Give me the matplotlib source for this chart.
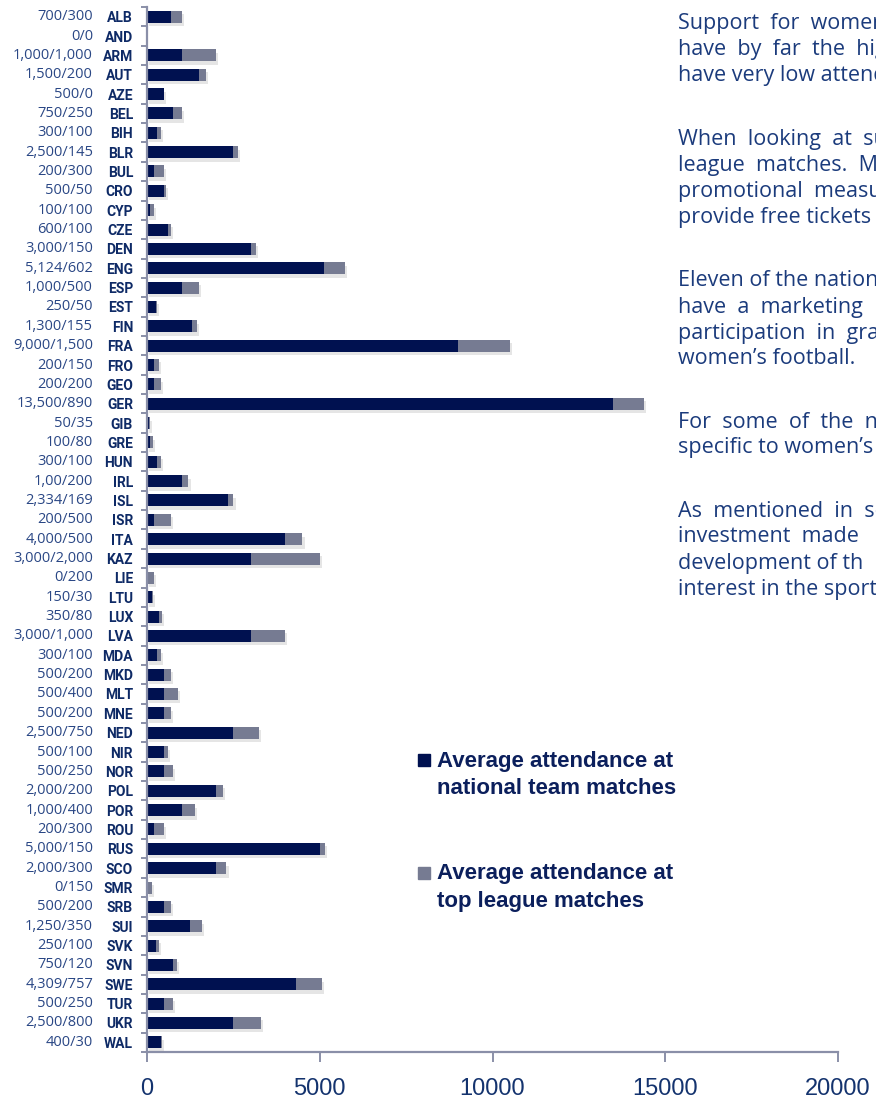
import matplotlib.pyplot as plt
import matplotlib.transforms as mtransforms
from matplotlib.patches import Rectangle
import matplotlib.patheffects as pe
import numpy as np

# Women's football attendance per association (national team / top league)
countries = ['ALB', 'AND', 'ARM', 'AUT', 'AZE', 'BEL', 'BIH', 'BLR', 'BUL', 'CRO',
             'CYP', 'CZE', 'DEN', 'ENG', 'ESP', 'EST', 'FIN', 'FRA', 'FRO', 'GEO',
             'GER', 'GIB', 'GRE', 'HUN', 'IRL', 'ISL', 'ISR', 'ITA', 'KAZ', 'LIE',
             'LTU', 'LUX', 'LVA', 'MDA', 'MKD', 'MLT', 'MNE', 'NED', 'NIR', 'NOR',
             'POL', 'POR', 'ROU', 'RUS', 'SCO', 'SMR', 'SRB', 'SUI', 'SVK', 'SVN',
             'SWE', 'TUR', 'UKR', 'WAL']
national = [700, 0, 1000, 1500, 500, 750, 300, 2500, 200, 500,
            100, 600, 3000, 5124, 1000, 250, 1300, 9000, 200, 200,
            13500, 50, 100, 300, 1000, 2334, 200, 4000, 3000, 0,
            150, 350, 3000, 300, 500, 500, 500, 2500, 500, 500,
            2000, 1000, 200, 5000, 2000, 0, 500, 1250, 250, 750,
            4309, 500, 2500, 400]
league = [300, 0, 1000, 200, 0, 250, 100, 145, 300, 50,
          100, 100, 150, 602, 500, 50, 155, 1500, 150, 200,
          890, 35, 80, 100, 200, 169, 500, 500, 2000, 200,
          30, 80, 1000, 100, 200, 400, 200, 750, 100, 250,
          200, 400, 300, 150, 300, 150, 200, 350, 100, 120,
          757, 250, 800, 30]
value_labels = ['700/300', '0/0', '1,000/1,000', '1,500/200', '500/0', '750/250',
                '300/100', '2,500/145', '200/300', '500/50', '100/100', '600/100',
                '3,000/150', '5,124/602', '1,000/500', '250/50', '1,300/155',
                '9,000/1,500', '200/150', '200/200', '13,500/890', '50/35', '100/80',
                '300/100', '1,00/200', '2,334/169', '200/500', '4,000/500',
                '3,000/2,000', '0/200', '150/30', '350/80', '3,000/1,000', '300/100',
                '500/200', '500/400', '500/200', '2,500/750', '500/100', '500/250',
                '2,000/200', '1,000/400', '200/300', '5,000/150', '2,000/300', '0/150',
                '500/200', '1,250/350', '250/100', '750/120', '4,309/757', '500/250',
                '2,500/800', '400/30']
x_ticks = [0, 5000, 10000, 15000, 20000]

# side text, one entry per printed line
side_lines = [
    (23, 'Support  for  women\'s'),
    (49, 'have  by  far  the  highest'),
    (75, 'have very low attendances'),
    (139, 'When  looking  at  support'),
    (165, 'league  matches.  Many'),
    (191, 'promotional  measures'),
    (217, 'provide free tickets'),
    (281, 'Eleven of the national'),
    (307, 'have  a  marketing'),
    (333, 'participation  in  grass'),
    (358, 'women\u2019s football.'),
    (423, 'For  some  of  the  national'),
    (448, 'specific to women\u2019s'),
    (511, 'As  mentioned  in  section'),
    (537, 'investment  made'),
    (563, 'development of th'),
    (589, 'interest in the sport'),
]

DARK = '#001150'
GREY = '#767b92'
AXIS = '#8a8fa8'
NAVY_TXT = '#2a4785'
CODE_TXT = '#0e2a66'

W, H = 876, 1101
fig = plt.figure(figsize=(W / 100, H / 100), dpi=100)
ax = fig.add_axes([147 / W, 1 - 1052 / H, (838 - 147) / W, (1052 - 7) / H])

n = len(countries)
y = np.arange(n)
shadow = [pe.SimplePatchShadow(offset=(1.5, -2.5), shadow_rgbFace='#999999', alpha=0.25),
          pe.Normal()]
ax.barh(y, national, height=0.62, color=DARK, path_effects=shadow, zorder=2)
ax.barh(y, league, left=national, height=0.62, color=GREY, path_effects=shadow, zorder=2)

ax.set_xlim(0, 20000)
ax.set_ylim(n - 0.5, -0.5)

for s in ['top', 'right']:
    ax.spines[s].set_visible(False)
for s in ['left', 'bottom']:
    ax.spines[s].set_color(AXIS)
    ax.spines[s].set_linewidth(1.6)

ax.set_xticks(x_ticks)
ax.set_xticklabels([str(v) for v in x_ticks], family=['Liberation Sans', 'DejaVu Sans'],
                   fontsize=17, color='#14336e')
ax.tick_params(axis='x', length=7, width=1.4, color=AXIS, pad=12)

ax.set_yticks(y)
ax.set_yticklabels(countries, family=['Roboto', 'DejaVu Sans'],
                   fontweight='bold', fontsize=10, color=CODE_TXT)
ax.tick_params(axis='y', which='major', length=0, pad=10)
ax.set_yticks(np.arange(n + 1) - 0.5, minor=True)
ax.tick_params(axis='y', which='minor', length=4, width=1.4, color=AXIS)

# national/league figures to the left of the codes
trans = mtransforms.blended_transform_factory(fig.transFigure, ax.transData)
for yi, lab in zip(y, value_labels):
    ax.text(93 / W, yi, lab, transform=trans, ha='right', va='center',
            family=['Open Sans', 'DejaVu Sans'], fontsize=10.5, color=NAVY_TXT)

# legend
legend_items = [(DARK, 760, 'Average attendance at', 'national team matches'),
                (GREY, 873, 'Average attendance at', 'top league matches')]
for col, ytop, l1, l2 in legend_items:
    fig.patches.append(Rectangle((418 / W, 1 - (ytop + 6) / H), 12 / W, 12 / H,
                                 transform=fig.transFigure, color=col))
    for dy, txt in [(0, l1), (27, l2)]:
        fig.text(437 / W, 1 - (ytop + dy + 1) / H, txt, ha='left', va='center',
                 family=['Liberation Sans', 'DejaVu Sans'], fontweight='bold',
                 fontsize=16, color='#0b1f5c')

for yy, line in side_lines:
    fig.text(678 / W, 1 - yy / H, line, ha='left', va='center',
             family=['Open Sans', 'DejaVu Sans'], fontsize=15.5, color='#1b3b7c')

fig.savefig('out.png', dpi=100)
